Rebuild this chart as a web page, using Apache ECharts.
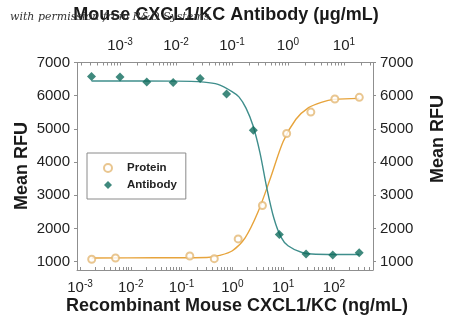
<!DOCTYPE html>
<html><head><meta charset="utf-8">
<script src="https://cdn.jsdelivr.net/npm/echarts@6/dist/echarts.min.js"></script>
<style>html,body{margin:0;padding:0;background:#fff}#c{width:450px;height:330px}</style>
</head><body><div id="c"></div>
<script>
// Protein (bottom axis, ng/mL)
const proteinX = [0.0017, 0.005, 0.145, 0.44, 1.3, 3.9, 11.7, 35, 104, 315];
const proteinY = [1073, 1112, 1172, 1091, 1686, 2693, 4862, 5506, 5899, 5950];
// Protein fitted curve
const proteinFitX = [0.0017, 0.03, 0.1, 0.316, 0.562, 1, 1.78, 3.16, 5.62, 10, 17.8, 31.6, 56.2, 100, 315];
const proteinFitY = [1110, 1118, 1120, 1125, 1190, 1330, 1720, 2480, 3520, 4620, 5290, 5640, 5800, 5890, 5920];
// Antibody (top axis, ug/mL)
const antibodyX = [0.00031, 0.001, 0.003, 0.0089, 0.027, 0.08, 0.24, 0.70, 2.1, 6.3, 18.7];
const antibodyY = [6576, 6564, 6413, 6395, 6516, 6050, 4961, 1822, 1233, 1203, 1272];
// Antibody fitted curve
const antibodyFitX = [0.00031, 0.01, 0.0316, 0.0562, 0.1, 0.133, 0.178, 0.237, 0.316, 0.422, 0.562, 0.75, 1, 1.78, 3.16, 18.7];
const antibodyFitY = [6443, 6440, 6410, 6340, 6125, 5965, 5625, 5100, 4278, 3190, 2300, 1740, 1480, 1276, 1225, 1218];
// Tick labels
const bottomTickValues = [0.001, 0.01, 0.1, 1, 10, 100];
const topTickValues = [0.001, 0.01, 0.1, 1, 10];
const yTickValues = [1000, 2000, 3000, 4000, 5000, 6000, 7000];

const bottomMin = Math.pow(10, -3.059), bottomMax = Math.pow(10, 2.768);
const topMin = Math.pow(10, -3.768), topMax = Math.pow(10, 1.518);

function logTicks(min, max) {
  const out = [];
  for (let e = -5; e <= 3; e++) for (let m = 1; m <= 9; m++) {
    const v = m * Math.pow(10, e);
    if (v >= min && v <= max) out.push(v);
  }
  return out;
}
const FONT = "'Liberation Sans', Arial, sans-serif";
const AX = '#8f8f8f';
const supFmt = v => '{b|10}{s|' + Math.round(Math.log10(v)) + '}';
const rich = {
  b: {fontSize: 15, fontFamily: FONT, color: '#222', lineHeight: 17},
  s: {fontSize: 10, fontFamily: FONT, color: '#222', verticalAlign: 'top', lineHeight: 10}
};
const zip = (a, b) => a.map((v, i) => [v, b[i]]);
const plainNum = v => String(v);

const chart = echarts.init(document.getElementById('c'), null, {renderer: 'canvas'});
chart.setOption({
  animation: false,
  backgroundColor: '#fff',
  grid: {left: 77, right: 77, top: 62.5, bottom: 60},
  xAxis: [{
    type: 'log', position: 'bottom', min: bottomMin, max: bottomMax,
    axisLine: {show: true, onZero: false, lineStyle: {color: AX}},
    axisTick: {show: true, inside: true, length: 3, customValues: logTicks(bottomMin, bottomMax), lineStyle: {color: AX}},
    axisLabel: {customValues: bottomTickValues, formatter: supFmt, rich: rich, margin: 9},
    splitLine: {show: false}
  }, {
    type: 'log', position: 'top', min: topMin, max: topMax,
    axisLine: {show: true, onZero: false, lineStyle: {color: AX}},
    axisTick: {show: true, inside: true, length: 3, customValues: logTicks(topMin, topMax), lineStyle: {color: AX}},
    axisLabel: {customValues: topTickValues, formatter: supFmt, rich: rich, margin: 8},
    splitLine: {show: false}
  }],
  yAxis: [{
    type: 'value', position: 'left', min: 750, max: 7000,
    axisLine: {show: true, onZero: false, lineStyle: {color: AX}},
    axisTick: {show: true, length: 3, customValues: yTickValues, lineStyle: {color: AX}},
    axisLabel: {customValues: yTickValues, formatter: plainNum, fontSize: 15, fontFamily: FONT, color: '#222', margin: 7},
    splitLine: {show: false}
  }, {
    type: 'value', position: 'right', min: 750, max: 7000,
    axisLine: {show: true, onZero: false, lineStyle: {color: AX}},
    axisTick: {show: true, length: 3, customValues: yTickValues, lineStyle: {color: AX}},
    axisLabel: {customValues: yTickValues, formatter: plainNum, fontSize: 15, fontFamily: FONT, color: '#222', margin: 7},
    splitLine: {show: false}
  }],
  legend: {
    data: ['Protein', 'Antibody'], orient: 'vertical', left: 87, top: 153,
    borderColor: '#8a8a8a', borderWidth: 1, borderRadius: 0,
    padding: [9, 9, 8, 16], itemGap: 5, itemWidth: 8, itemHeight: 8,
    textStyle: {fontSize: 11.5, fontWeight: 'bold', fontFamily: FONT, color: '#222', padding: [0, 0, 0, 10]}
  },
  series: [{
    name: 'ProteinFit', type: 'line', xAxisIndex: 0, yAxisIndex: 0,
    data: zip(proteinFitX, proteinFitY), smooth: 0.3, showSymbol: false, symbol: 'none',
    lineStyle: {color: '#E7A43C', width: 1.4}, z: 2
  }, {
    name: 'AntibodyFit', type: 'line', xAxisIndex: 1, yAxisIndex: 0,
    data: zip(antibodyFitX, antibodyFitY), smooth: 0.3, showSymbol: false, symbol: 'none',
    lineStyle: {color: '#3F8E8C', width: 1.4}, z: 2
  }, {
    name: 'Protein', type: 'scatter', xAxisIndex: 0, yAxisIndex: 0,
    data: zip(proteinX, proteinY), symbol: 'emptyCircle', symbolSize: 7,
    itemStyle: {color: '#E3B874', borderColor: '#E3B874', borderWidth: 1}, z: 3
  }, {
    name: 'Antibody', type: 'scatter', xAxisIndex: 1, yAxisIndex: 0,
    data: zip(antibodyX, antibodyY), symbol: 'diamond', symbolSize: 9,
    itemStyle: {color: '#0F6B5C'}, z: 3
  }],
  graphic: [
    {type: 'text', x: 226, y: 15, style: {text: 'Mouse CXCL1/KC Antibody (\u00b5g/mL)', font: "bold 18px " + FONT, fill: '#1a1a1a', align: 'center', verticalAlign: 'middle'}, z: 10},
    {type: 'text', x: 10, y: 17, style: {text: 'with permission from R&D Systems', font: "italic 11px 'DejaVu Serif', serif", fill: '#333', verticalAlign: 'middle'}, z: 11},
    {type: 'text', x: 237, y: 306, style: {text: 'Recombinant Mouse CXCL1/KC (ng/mL)', font: "bold 18px " + FONT, fill: '#1a1a1a', align: 'center', verticalAlign: 'middle'}},
    {type: 'text', x: 22, y: 166, rotation: Math.PI / 2, style: {text: 'Mean RFU', font: "bold 18px " + FONT, fill: '#1a1a1a', align: 'center', verticalAlign: 'middle'}},
    {type: 'text', x: 438, y: 139, rotation: Math.PI / 2, style: {text: 'Mean RFU', font: "bold 18px " + FONT, fill: '#1a1a1a', align: 'center', verticalAlign: 'middle'}}
  ]
});
</script>
</body></html>
